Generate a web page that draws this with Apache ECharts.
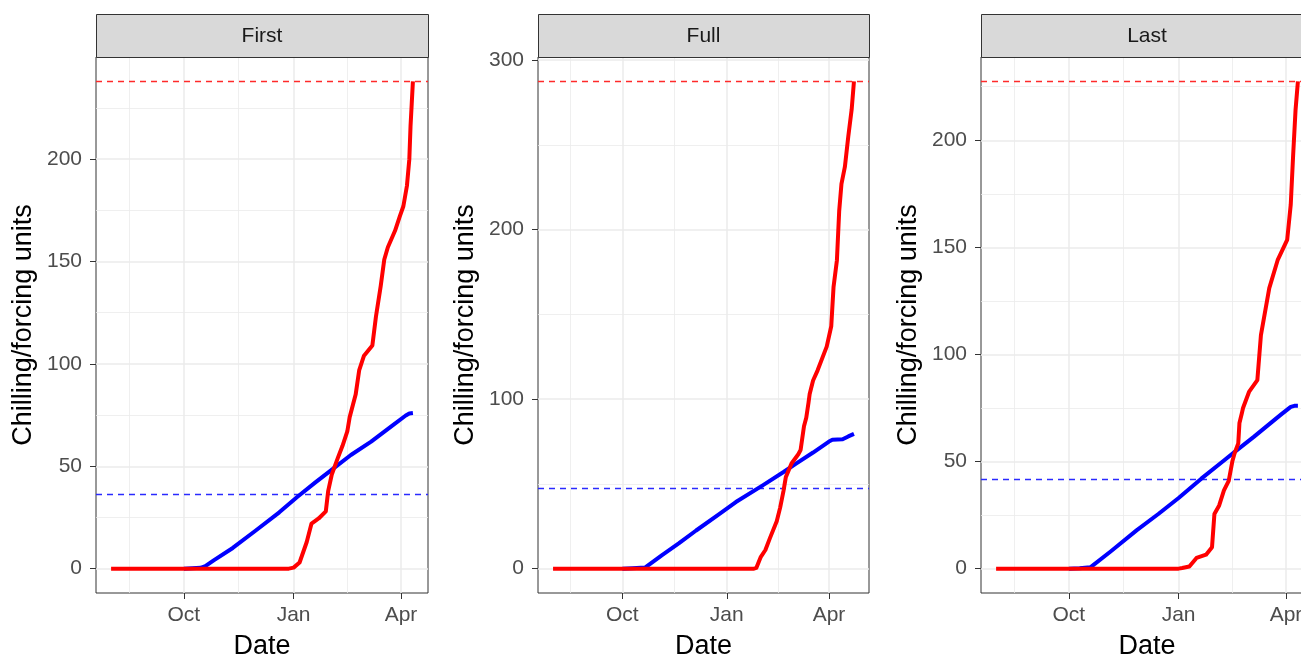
<!DOCTYPE html>
<html><head><meta charset="utf-8">
<script src="https://cdn.jsdelivr.net/npm/echarts@6/dist/echarts.min.js"></script>
<style>html,body{margin:0;padding:0;background:#fff}#c{width:1301px;height:657px}</style>
</head><body><div id="c"></div>
<script>
// ---------------- data ----------------
const panelNames = ['First', 'Full', 'Last'];
const monthBreakDates = ['2018-07-01', '2018-10-01', '2019-01-01', '2019-04-01', '2019-07-01'];
const monthBreakLabels = ['Jul', 'Oct', 'Jan', 'Apr', 'Jul'];
const firstYBreaks = [0, 50, 100, 150, 200];
const fullYBreaks = [0, 100, 200, 300];
const lastYBreaks = [0, 50, 100, 150, 200];
const chillThreshold = [36.5, 47.6, 41.6];
const heatThreshold = [238, 287.5, 227.5];

const firstChill = [['2018-10-01',0],['2018-10-08',0.2],['2018-10-15',0.4],['2018-10-19',1.2],['2018-10-26',4],['2018-11-11',10.1],['2018-11-30',18.5],['2018-12-20',27.5],['2019-01-04',35],['2019-01-19',42],['2019-02-04',49.2],['2019-02-18',55.5],['2019-03-07',62],['2019-03-25',70],['2019-04-05',74.8],['2019-04-08',75.8],['2019-04-11',76]];
const firstHeat = [['2018-08-01',0],['2018-12-28',0],['2019-01-01',0.5],['2019-01-06',3],['2019-01-12',13],['2019-01-16',22],['2019-01-22',24.5],['2019-01-28',28],['2019-01-30',38],['2019-02-02',46],['2019-02-07',54],['2019-02-11',60],['2019-02-15',67],['2019-02-17',74],['2019-02-22',85],['2019-02-25',97],['2019-03-01',104],['2019-03-08',109],['2019-03-11',123],['2019-03-15',138],['2019-03-18',151],['2019-03-21',157],['2019-03-27',165],['2019-03-31',172],['2019-04-03',177],['2019-04-06',187],['2019-04-08',200],['2019-04-09',216],['2019-04-10',227],['2019-04-11',238]];

const fullChill = [['2018-10-01',0],['2018-10-10',0.2],['2018-10-21',0.6],['2018-11-05',8],['2018-11-20',15],['2018-12-05',22.5],['2018-12-25',32],['2019-01-09',39.3],['2019-02-02',49.3],['2019-02-20',57],['2019-03-03',62],['2019-03-18',68.5],['2019-04-01',75],['2019-04-04',76],['2019-04-13',76.3],['2019-04-18',78],['2019-04-23',79.5]];
const fullHeat = [['2018-08-01',0],['2019-01-25',0],['2019-01-27',0.4],['2019-01-31',7],['2019-02-04',11],['2019-02-08',18],['2019-02-14',28],['2019-02-17',36],['2019-02-20',46],['2019-02-22',54],['2019-02-27',62],['2019-03-05',67.5],['2019-03-07',70],['2019-03-10',84],['2019-03-12',89],['2019-03-14',98],['2019-03-15',103],['2019-03-18',111],['2019-03-22',117],['2019-03-30',131],['2019-04-03',143],['2019-04-05',166],['2019-04-08',182],['2019-04-10',211],['2019-04-12',227],['2019-04-15',237],['2019-04-18',255],['2019-04-21',271],['2019-04-23',287.5]];

const lastChill = [['2018-10-01',0],['2018-10-10',0.2],['2018-10-19',0.6],['2018-11-05',8],['2018-11-27',18],['2018-12-15',25.5],['2019-01-01',33],['2019-01-20',42],['2019-02-08',50.5],['2019-02-17',54.5],['2019-03-05',61.5],['2019-03-17',67],['2019-03-28',72],['2019-04-05',75.5],['2019-04-08',76],['2019-04-11',76]];
const lastHeat = [['2018-08-01',0],['2019-01-01',0],['2019-01-04',0.3],['2019-01-10',1],['2019-01-16',5],['2019-01-24',6.5],['2019-01-29',10],['2019-01-31',25.5],['2019-02-04',29.5],['2019-02-08',36.5],['2019-02-12',41],['2019-02-15',50],['2019-02-17',54],['2019-02-20',58.5],['2019-02-21',68],['2019-02-23',72.5],['2019-02-24',75],['2019-03-01',82.5],['2019-03-08',88],['2019-03-11',109],['2019-03-18',131],['2019-03-25',144],['2019-04-02',153.5],['2019-04-05',170],['2019-04-07',193],['2019-04-09',214],['2019-04-11',227.5]];

// ---------------- layout / styling ----------------
const FONT = '"Liberation Sans", Arial, Helvetica, sans-serif';
const layout = { left: [96, 538, 981], width: [332, 331, 332], top: 57, height: 536, stripTop: 14 };
const DAY = 864e5, ORIGIN = Date.UTC(2018, 9, 1);
const toDay = s => (Date.parse(s) - ORIGIN) / DAY;

const chillSets = [firstChill, fullChill, lastChill];
const heatSets = [firstHeat, fullHeat, lastHeat];
const yBreakSets = [firstYBreaks, fullYBreaks, lastYBreaks];
const monthBreaks = monthBreakDates.map(toDay);

function expand(lo, hi) { const d = (hi - lo) * 0.05; return [lo - d, hi + d]; }

const grids = [], xAxes = [], yAxes = [], series = [], graphics = [];

for (let i = 0; i < 3; i++) {
  const chill = chillSets[i].map(p => [toDay(p[0]), p[1]]);
  const heat = heatSets[i].map(p => [toDay(p[0]), p[1]]);
  const all = chill.concat(heat);
  const [xmin, xmax] = expand(Math.min(...all.map(p => p[0])), Math.max(...all.map(p => p[0])));
  const [ymin, ymax] = expand(0, Math.max(...all.map(p => p[1]), heatThreshold[i], chillThreshold[i]));

  const xMajor = monthBreaks.filter(v => v >= xmin && v <= xmax);
  const xMinor = [];
  for (let k = 0; k < monthBreaks.length - 1; k++) {
    const m = (monthBreaks[k] + monthBreaks[k + 1]) / 2;
    if (m >= xmin && m <= xmax) xMinor.push(m);
  }
  const yb = yBreakSets[i];
  const yMajor = yb.filter(v => v >= ymin && v <= ymax);
  const step = yb[1] - yb[0];
  const yMinor = [];
  for (let m = yb[0] - step / 2; m <= ymax; m += step) if (m >= ymin) yMinor.push(m);

  grids.push({ left: layout.left[i], top: layout.top, width: layout.width[i], height: layout.height,
    outerBoundsMode: 'none', containLabel: false,
    show: true, borderColor: '#333333', borderWidth: 1, backgroundColor: '#ffffff' });

  xAxes.push({
    type: 'value', gridIndex: i, min: xmin, max: xmax, position: 'bottom',
    axisLine: { show: false, onZero: false }, splitLine: { show: false },
    axisTick: { show: true, customValues: xMajor, length: 6, lineStyle: { color: '#333333', width: 1 } },
    axisLabel: { customValues: xMajor, color: '#4D4D4D', fontSize: 21, fontFamily: FONT, margin: 12,
      formatter: v => { const k = monthBreaks.findIndex(b => Math.abs(b - v) < 1e-6); return k >= 0 ? monthBreakLabels[k] : ''; } },
    name: 'Date', nameLocation: 'middle', nameGap: 40,
    nameTextStyle: { fontSize: 27, color: '#000000', fontFamily: FONT }
  });
  yAxes.push({
    type: 'value', gridIndex: i, min: ymin, max: ymax, position: 'left',
    axisLine: { show: false, onZero: false }, splitLine: { show: false },
    axisTick: { show: true, customValues: yMajor, length: 6, lineStyle: { color: '#333333', width: 1 } },
    axisLabel: { customValues: yMajor, color: '#4D4D4D', fontSize: 21, fontFamily: FONT, margin: 14 },
    name: 'Chilling/forcing units', nameLocation: 'middle', nameGap: 59,
    nameTextStyle: { fontSize: 27, color: '#000000', fontFamily: FONT }
  });

  const gridLines = [];
  xMinor.forEach(v => gridLines.push({ xAxis: v, lineStyle: { color: '#EBEBEB', width: 0.8, type: 'solid' } }));
  yMinor.forEach(v => gridLines.push({ yAxis: v, lineStyle: { color: '#EBEBEB', width: 0.8, type: 'solid' } }));
  xMajor.forEach(v => gridLines.push({ xAxis: v, lineStyle: { color: '#EBEBEB', width: 1.5, type: 'solid' } }));
  yMajor.forEach(v => gridLines.push({ yAxis: v, lineStyle: { color: '#EBEBEB', width: 1.5, type: 'solid' } }));

  series.push({ type: 'line', name: 'grid' + i, xAxisIndex: i, yAxisIndex: i, data: [], z: 1, silent: true,
    markLine: { z: 1, silent: true, symbol: ['none', 'none'], label: { show: false }, emphasis: { disabled: true }, data: gridLines } });
  series.push({ type: 'line', name: 'thr' + i, xAxisIndex: i, yAxisIndex: i, data: [], z: 2, silent: true,
    markLine: { z: 2, silent: true, symbol: ['none', 'none'], label: { show: false }, emphasis: { disabled: true },
      data: [
        { yAxis: heatThreshold[i], lineStyle: { color: '#FF2A2A', width: 1.3, type: [6, 5] } },
        { yAxis: chillThreshold[i], lineStyle: { color: '#2A2AFF', width: 1.3, type: [6, 5] } }
      ] } });
  series.push({ type: 'line', name: 'Chill ' + panelNames[i], xAxisIndex: i, yAxisIndex: i, data: chill, z: 3,
    showSymbol: false, symbol: 'none', silent: true, lineStyle: { color: '#0000FF', width: 4, join: 'round' } });
  series.push({ type: 'line', name: 'Heat ' + panelNames[i], xAxisIndex: i, yAxisIndex: i, data: heat, z: 3, zlevel: 1,
    showSymbol: false, symbol: 'none', silent: true, lineStyle: { color: '#FF0000', width: 4, join: 'round' } });

  graphics.push({ type: 'rect', z: 10, shape: { x: layout.left[i] + 0.5, y: layout.stripTop + 0.5, width: layout.width[i], height: layout.top - layout.stripTop },
    style: { fill: '#D9D9D9', stroke: '#333333', lineWidth: 1 } });
  graphics.push({ type: 'text', z: 11, x: layout.left[i] + layout.width[i] / 2, y: (layout.stripTop + layout.top) / 2 + 0.5,
    style: { text: panelNames[i], fill: '#1A1A1A', fontSize: 21, fontFamily: FONT, align: 'center', verticalAlign: 'middle' } });
}

const chart = echarts.init(document.getElementById('c'), null, { renderer: 'canvas' });
chart.setOption({
  animation: false,
  backgroundColor: '#ffffff',
  grid: grids, xAxis: xAxes, yAxis: yAxes, series: series,
  graphic: { elements: graphics }
});
</script></body></html>
